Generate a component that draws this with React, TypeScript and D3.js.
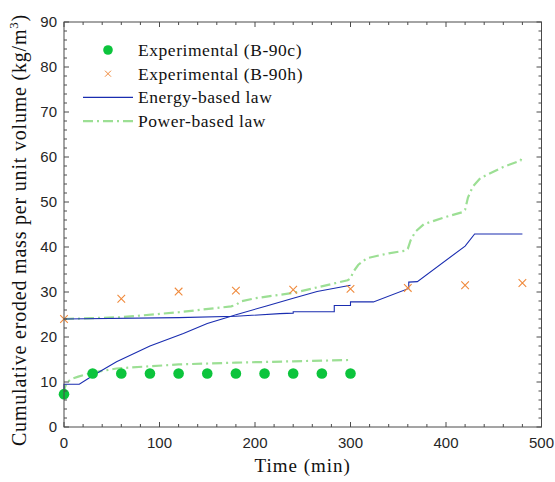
import React from "react";
import * as d3 from "d3";

// ---- data ----
const expC_t = [0, 30, 60, 90, 120, 150, 180, 210, 240, 270, 300];
const expC_v = [7.3, 11.9, 11.9, 11.9, 11.9, 11.9, 11.9, 11.9, 11.9, 11.9, 11.9];

const expH_t = [0, 60, 120, 180, 240, 300, 360, 420, 480];
const expH_v = [24.0, 28.5, 30.1, 30.3, 30.5, 30.7, 30.9, 31.5, 32.0];

const energyC_t = [0, 0, 16, 30, 55, 90, 125, 150, 181, 212, 240, 265, 300];
const energyC_v = [7.3, 9.5, 9.5, 11.4, 14.5, 18.0, 20.8, 23.0, 25.0, 26.9, 28.6, 30.1, 31.5];

const energyH_t = [0, 120, 180, 226, 240, 240, 283, 283, 300, 300, 324, 361, 361, 370, 420, 430, 480];
const energyH_v = [24.0, 24.3, 24.6, 25.2, 25.3, 25.6, 25.6, 27.0, 27.0, 27.8, 27.8, 30.8, 32.2, 32.3, 40.2, 42.9, 42.9];

const powerC_t = [0, 1, 3, 8, 15, 30, 55, 90, 120, 180, 240, 300];
const powerC_v = [7.3, 8.8, 9.9, 10.7, 11.2, 12.1, 13.0, 13.5, 13.9, 14.3, 14.6, 14.9];

const powerH_t = [0, 60, 120, 175, 180, 185, 200, 240, 297, 300, 303, 308, 317, 340, 358, 360, 363, 368, 377, 400, 418, 420, 423, 428, 436, 460, 478, 480];
const powerH_v = [24.0, 24.4, 25.5, 26.8, 27.1, 27.9, 28.6, 29.8, 32.6, 33.0, 34.5, 36.0, 37.5, 38.6, 39.2, 39.6, 41.5, 43.4, 45.1, 46.7, 47.8, 48.3, 51.0, 53.4, 55.3, 57.8, 59.2, 60.3];

const xTicks = [0, 100, 200, 300, 400, 500];
const yTicks = [0, 10, 20, 30, 40, 50, 60, 70, 80, 90];
const legendLabels = ["Experimental (B-90c)", "Experimental (B-90h)", "Energy-based law", "Power-based law"];

// ---- layout ----
const W = 555, H = 482;
const L = 64, R = 541.5, T = 22, B = 427;

const C_GREEN = "#0cc43c";
const C_ORANGE = "#f08a3c";
const C_BLUE = "#1a2db0";
const C_LGREEN = "#9cdf94";
const C_AXIS = "#4a4a4a";
const C_TXT = "#262626";
const SERIF = "'Liberation Serif', 'Times New Roman', Times, serif";
const SANS = "'Liberation Sans', Arial, Helvetica, sans-serif";

const zip = (ts: number[], vs: number[]) => ts.map((t, i) => [t, vs[i]] as [number, number]);

export default function App() {
  const x = d3.scaleLinear().domain([0, 500]).range([L, R]);
  const y = d3.scaleLinear().domain([0, 90]).range([B, T]);
  const line = d3.line<[number, number]>().x(d => x(d[0])).y(d => y(d[1]));

  const xMinor = d3.range(0, 501, 20);
  const yMinor = d3.range(0, 91, 2);
  const dash = "10,4,2,4";

  return (
    <svg width={W} height={H} style={{ position: "absolute", left: 0, top: 0, background: "#fff" }}>
      <rect x={0} y={0} width={W} height={H} fill="#fff" />
      {/* series */}
      <path d={line(zip(powerC_t, powerC_v)) || ""} fill="none" stroke={C_LGREEN} strokeWidth={2.2} strokeDasharray={dash} />
      <path d={line(zip(powerH_t, powerH_v)) || ""} fill="none" stroke={C_LGREEN} strokeWidth={2.2} strokeDasharray={dash} />
      <path d={line(zip(energyH_t, energyH_v)) || ""} fill="none" stroke={C_BLUE} strokeWidth={1.1} />
      <path d={line(zip(energyC_t, energyC_v)) || ""} fill="none" stroke={C_BLUE} strokeWidth={1.1} />
      {zip(expC_t, expC_v).map((d, i) => (
        <circle key={"c" + i} cx={x(d[0])} cy={y(d[1])} r={5.3} fill={C_GREEN} />
      ))}
      {zip(expH_t, expH_v).map((d, i) => {
        const cx = x(d[0]), cy = y(d[1]), s = 3.8;
        return (
          <path key={"h" + i} d={`M${cx - s},${cy - s}L${cx + s},${cy + s}M${cx - s},${cy + s}L${cx + s},${cy - s}`} stroke={C_ORANGE} strokeWidth={1.1} fill="none" />
        );
      })}

      {/* axes box */}
      <rect x={L} y={T} width={R - L} height={B - T} fill="none" stroke={C_AXIS} strokeWidth={1} />
      {xMinor.map(v => {
        const len = v % 100 === 0 ? 5 : 3;
        return (
          <g key={"xt" + v} stroke={C_AXIS} strokeWidth={1}>
            <line x1={x(v)} x2={x(v)} y1={B} y2={B - len} />
            <line x1={x(v)} x2={x(v)} y1={T} y2={T + len} />
          </g>
        );
      })}
      {yMinor.map(v => {
        const len = v % 10 === 0 ? 5 : 3;
        return (
          <g key={"yt" + v} stroke={C_AXIS} strokeWidth={1}>
            <line x1={L} x2={L + len} y1={y(v)} y2={y(v)} />
            <line x1={R} x2={R - len} y1={y(v)} y2={y(v)} />
          </g>
        );
      })}
      {xTicks.map(v => (
        <text key={"xl" + v} x={x(v)} y={B + 21} textAnchor="middle" style={{ fontFamily: SANS }} fontSize={15} fill={C_TXT}>{v}</text>
      ))}
      {yTicks.map(v => (
        <text key={"yl" + v} x={L - 7} y={y(v) + 5} textAnchor="end" style={{ fontFamily: SANS }} fontSize={15} fill={C_TXT}>{v}</text>
      ))}

      {/* axis labels */}
      <text x={(L + R) / 2} y={472} textAnchor="middle" style={{ fontFamily: SERIF }} fontSize={19} letterSpacing={1} fill="#111">Time (min)</text>
      <text transform={`translate(26,230) rotate(-90)`} textAnchor="middle" style={{ fontFamily: SERIF }} fontSize={20} letterSpacing={0.8} fill="#111">
        Cumulative eroded mass per unit volume (kg/m<tspan fontSize={13} dy={-8}>3</tspan><tspan dy={8}>)</tspan>
      </text>

      {/* legend */}
      {legendLabels.map((lab, i) => {
        const ly = 50 + i * 23.7;
        return (
          <g key={"lg" + i}>
            {i === 0 && <circle cx={108} cy={ly} r={4.8} fill={C_GREEN} />}
            {i === 1 && <path d={`M${105},${ly - 3}L${111},${ly + 3}M${105},${ly + 3}L${111},${ly - 3}`} stroke={C_ORANGE} strokeWidth={1} />}
            {i === 2 && <line x1={83} x2={133} y1={ly} y2={ly} stroke={C_BLUE} strokeWidth={1.1} />}
            {i === 3 && <line x1={83} x2={133} y1={ly} y2={ly} stroke={C_LGREEN} strokeWidth={2.2} strokeDasharray={dash} />}
            <text x={138} y={ly + 6} style={{ fontFamily: SERIF }} fontSize={17.5} letterSpacing={0.55} fill="#111">{lab}</text>
          </g>
        );
      })}
    </svg>
  );
}
